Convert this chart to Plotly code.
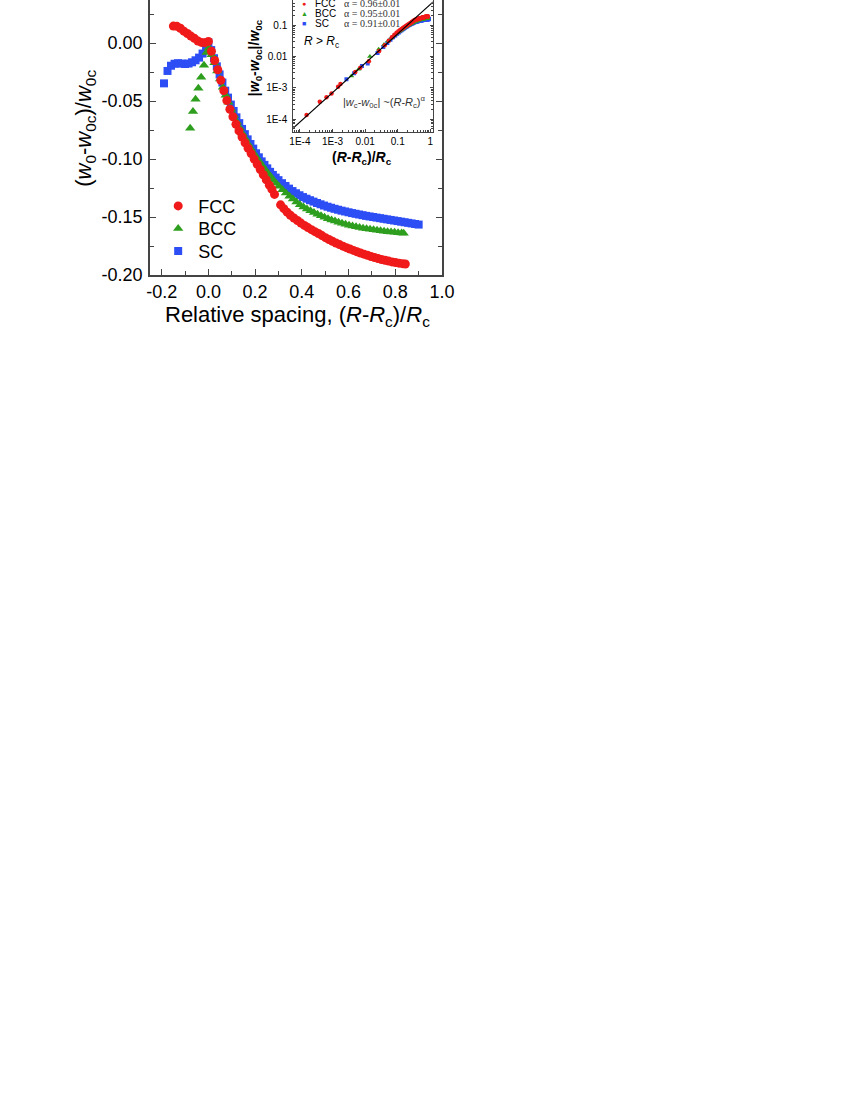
import plotly.graph_objects as go

# ---------------- main panel data: (w0 - w0c)/w0c vs (R-Rc)/Rc ----------------
fcc_x = [-0.150, -0.135, -0.120, -0.105, -0.090, -0.075, -0.060, -0.045, -0.030, -0.015, 0.000,
         0.013, 0.027, 0.040, 0.053, 0.066, 0.079, 0.092, 0.105, 0.118, 0.131, 0.144, 0.157, 0.170,
         0.183, 0.196, 0.209, 0.222, 0.235, 0.248, 0.261, 0.272, 0.283,
         0.309, 0.323, 0.337, 0.351, 0.366, 0.381, 0.396, 0.411, 0.426, 0.441, 0.456, 0.471, 0.486,
         0.501, 0.516, 0.531, 0.546, 0.561, 0.576, 0.591, 0.606, 0.621, 0.636, 0.651, 0.666, 0.681,
         0.696, 0.711, 0.726, 0.741, 0.756, 0.771, 0.786, 0.801, 0.816, 0.831, 0.843]
fcc_y = [0.0147, 0.0145, 0.0128, 0.0103, 0.0083, 0.0061, 0.0041, 0.0018, 0.0006, 0.0004, 0.0015,
         -0.0070, -0.0150, -0.0230, -0.0320, -0.0410, -0.0495, -0.0570, -0.0635, -0.0700, -0.0757,
         -0.0810, -0.0860, -0.0907, -0.0953, -0.1000, -0.1045, -0.1090, -0.1135, -0.1180, -0.1225,
         -0.1262, -0.1305,
         -0.1395, -0.1428, -0.1458, -0.1485, -0.1508, -0.1530, -0.1552, -0.1572, -0.1591, -0.1609,
         -0.1626, -0.1642, -0.1660, -0.1678, -0.1694, -0.1709, -0.1724, -0.1738, -0.1751, -0.1764,
         -0.1776, -0.1788, -0.1799, -0.1810, -0.1820, -0.1830, -0.1840, -0.1849, -0.1858, -0.1866,
         -0.1873, -0.1880, -0.1887, -0.1893, -0.1898, -0.1902, -0.1905]

bcc_x = [-0.078, -0.066, -0.055, -0.043, -0.031, -0.019, -0.008, 0.002,
         0.014, 0.026, 0.038, 0.050, 0.062, 0.074, 0.086, 0.098, 0.110, 0.122, 0.134, 0.146, 0.158,
         0.170, 0.182, 0.194, 0.206, 0.218, 0.230, 0.242, 0.254, 0.266, 0.278, 0.290, 0.302,
         0.317, 0.332, 0.347, 0.362, 0.377, 0.392, 0.407, 0.422, 0.437, 0.452, 0.467, 0.482, 0.497,
         0.512, 0.527, 0.542, 0.557, 0.572, 0.587, 0.602, 0.617, 0.632, 0.647, 0.662, 0.677, 0.692,
         0.707, 0.722, 0.737, 0.752, 0.767, 0.782, 0.797, 0.812, 0.827, 0.836]
bcc_y = [-0.0735, -0.0590, -0.0485, -0.0390, -0.0295, -0.0190, -0.0080, -0.0040,
         -0.0100, -0.0170, -0.0240, -0.0310, -0.0380, -0.0450, -0.0510, -0.0570, -0.0625, -0.0680,
         -0.0730, -0.0780, -0.0825, -0.0870, -0.0910, -0.0950, -0.0985, -0.1020, -0.1055, -0.1088,
         -0.1120, -0.1150, -0.1180, -0.1208, -0.1235,
         -0.1265, -0.1293, -0.1320, -0.1345, -0.1370, -0.1395, -0.1413, -0.1430, -0.1446, -0.1461,
         -0.1476, -0.1489, -0.1502, -0.1514, -0.1525, -0.1535, -0.1545, -0.1554, -0.1562, -0.1570,
         -0.1577, -0.1584, -0.1590, -0.1596, -0.1601, -0.1606, -0.1610, -0.1614, -0.1618, -0.1622,
         -0.1626, -0.1629, -0.1632, -0.1635, -0.1638, -0.1640]

sc_x = [-0.190, -0.175, -0.160, -0.145, -0.130, -0.115, -0.100, -0.085, -0.070, -0.055, -0.040,
        -0.025, -0.010, 0.000,
        0.012, 0.024, 0.036, 0.048, 0.060, 0.072, 0.084, 0.096, 0.108, 0.120, 0.132, 0.144, 0.156,
        0.168, 0.180, 0.192, 0.204, 0.216, 0.228, 0.240, 0.252, 0.264, 0.276, 0.288, 0.300,
        0.315, 0.330, 0.345, 0.360, 0.375, 0.390, 0.405, 0.420, 0.435, 0.450, 0.465, 0.480, 0.495,
        0.510, 0.525, 0.540, 0.555, 0.570, 0.585, 0.600, 0.615, 0.630, 0.645, 0.660, 0.675, 0.690,
        0.705, 0.720, 0.735, 0.750, 0.765, 0.780, 0.795, 0.810, 0.825, 0.840, 0.855, 0.870, 0.885,
        0.900]
sc_y = [-0.0347, -0.0240, -0.0195, -0.0178, -0.0173, -0.0176, -0.0180, -0.0176, -0.0165, -0.0148,
        -0.0125, -0.0090, -0.0040, 0.0005,
        -0.0060, -0.0130, -0.0200, -0.0270, -0.0340, -0.0410, -0.0470, -0.0530, -0.0585, -0.0640,
        -0.0690, -0.0740, -0.0785, -0.0830, -0.0870, -0.0910, -0.0950, -0.0985, -0.1020, -0.1050,
        -0.1080, -0.1110, -0.1137, -0.1160, -0.1182,
        -0.1208, -0.1232, -0.1255, -0.1276, -0.1295, -0.1312, -0.1328, -0.1342, -0.1355, -0.1367,
        -0.1379, -0.1390, -0.1401, -0.1411, -0.1420, -0.1429, -0.1437, -0.1445, -0.1452, -0.1459,
        -0.1466, -0.1472, -0.1478, -0.1484, -0.1490, -0.1495, -0.1500, -0.1505, -0.1510, -0.1515,
        -0.1520, -0.1525, -0.1530, -0.1535, -0.1540, -0.1545, -0.1550, -0.1555, -0.1560, -0.1565]

# ---------------- inset data: extra points at very small (R-Rc)/Rc ----------------
fcc_small_x = [1.60e-4, 4.07e-4, 6.53e-4, 9.33e-4, 1.48e-3, 1.75e-3, 5.0e-3, 7.1e-3]
fcc_small_y = [1.35e-4, 3.58e-4, 4.95e-4, 6.61e-4, 1.08e-3, 1.32e-3, 3.17e-3, 4.39e-3]
bcc_small_x = [3.80e-3, 6.31e-3]
bcc_small_y = [2.37e-3, 3.94e-3]
sc_small_x = [2.67e-3, 4.6e-3, 8.0e-3]
sc_small_y = [1.86e-3, 2.92e-3, 4.92e-3]
fit_x = [6.0e-5, 1.5]
fit_y = [4.94e-5, 0.673]

x_ticks = [-0.2, 0.0, 0.2, 0.4, 0.6, 0.8, 1.0]
x_ticktext = ['-0.2', '0.0', '0.2', '0.4', '0.6', '0.8', '1.0']
y_ticks = [-0.20, -0.15, -0.10, -0.05, 0.00]
y_ticktext = ['-0.20', '-0.15', '-0.10', '-0.05', '0.00']
ins_x_ticks = [1e-4, 1e-3, 1e-2, 1e-1, 1]
ins_x_ticktext = ['1E-4', '1E-3', '0.01', '0.1', '1']
ins_y_ticks = [1e-4, 1e-3, 1e-2, 1e-1]
ins_y_ticktext = ['1E-4', '1E-3', '0.01', '0.1']
alpha_text = ['α = 0.96±0.01', 'α = 0.95±0.01', 'α = 0.91±0.01']
names = ['FCC', 'BCC', 'SC']

RED = '#f01a1a'
GREEN = '#2e9e1e'
BLUE = '#2d4ef5'
AXC = '#444444'
FONT = 'Liberation Sans, Arial, sans-serif'

fig = go.Figure()

# main panel (blue first so red ends on top); one small legend per entry
fig.add_trace(go.Scatter(x=sc_x, y=sc_y, mode='markers', name='SC', legend='legend3',
                         marker=dict(symbol='square', size=8, color=BLUE)))
fig.add_trace(go.Scatter(x=bcc_x, y=bcc_y, mode='markers', name='BCC', legend='legend2',
                         marker=dict(symbol='triangle-up', size=9, color=GREEN)))
fig.add_trace(go.Scatter(x=fcc_x, y=fcc_y, mode='markers', name='FCC', legend='legend',
                         marker=dict(symbol='circle', size=9, color=RED)))


def inset_pts(small_x, small_y, xs, ys):
    px = list(small_x) + [x for x in xs if x >= 0.01]
    py = list(small_y) + [-y for x, y in zip(xs, ys) if x >= 0.01]
    return px, py


sx, sy = inset_pts(sc_small_x, sc_small_y, sc_x, sc_y)
bx, by = inset_pts(bcc_small_x, bcc_small_y, bcc_x, bcc_y)
fx, fy = inset_pts(fcc_small_x, fcc_small_y, fcc_x, fcc_y)
fig.add_trace(go.Scatter(x=sx, y=sy, mode='markers', xaxis='x2', yaxis='y2', showlegend=False,
                         marker=dict(symbol='square', size=4, color=BLUE)))
fig.add_trace(go.Scatter(x=bx, y=by, mode='markers', xaxis='x2', yaxis='y2', showlegend=False,
                         marker=dict(symbol='triangle-up', size=5, color=GREEN)))
fig.add_trace(go.Scatter(x=fx, y=fy, mode='markers', xaxis='x2', yaxis='y2', showlegend=False,
                         marker=dict(symbol='circle', size=4.5, color=RED)))
fig.add_trace(go.Scatter(x=fit_x, y=fit_y, mode='lines', xaxis='x2', yaxis='y2', showlegend=False,
                         line=dict(color='black', width=1.2)))

ax_common = dict(showline=True, linecolor=AXC, linewidth=1.6, ticks='inside', tickcolor=AXC,
                 showgrid=False, zeroline=False, automargin=False)

leg_common = dict(xanchor='left', yanchor='top', font=dict(size=18), bgcolor='rgba(0,0,0,0)',
                  itemwidth=30)

fig.update_layout(
    width=850, height=1100,
    margin=dict(l=150, r=408, t=0, b=825),
    paper_bgcolor='white', plot_bgcolor='white',
    font=dict(family=FONT, color='black'),
    xaxis=dict(range=[-0.25, 1.0], tickvals=x_ticks, ticktext=x_ticktext, ticklen=6, tickwidth=1.4,
               tickfont=dict(size=18), ticklabelstandoff=0,
               minor=dict(ticks='inside', dtick=0.1, ticklen=4, tickcolor=AXC, tickwidth=1.2),
               **ax_common),
    yaxis=dict(range=[-0.2, 0.0372], tickvals=y_ticks, ticktext=y_ticktext, ticklen=6, tickwidth=1.4,
               tickfont=dict(size=18), mirror='allticks', ticklabelstandoff=2,
               minor=dict(ticks='inside', dtick=0.025, tick0=0, ticklen=4, tickcolor=AXC, tickwidth=1.2),
               **ax_common),
    xaxis2=dict(type='log', domain=[0.491, 0.968], anchor='y2', range=[-4.2, 0.07],
                tickvals=ins_x_ticks, ticktext=ins_x_ticktext, ticklen=3, tickwidth=1,
                tickfont=dict(size=10), ticklabelstandoff=0,
                minor=dict(ticks='inside', ticklen=2, tickcolor=AXC, dtick='D1'),
                showline=True, linecolor=AXC, linewidth=1.2, ticks='inside', tickcolor=AXC,
                showgrid=False, zeroline=False, automargin=False),
    yaxis2=dict(type='log', domain=[0.521, 1.0], anchor='x2', range=[-4.404, -0.196],
                tickvals=ins_y_ticks, ticktext=ins_y_ticktext, ticklen=3, tickwidth=1,
                tickfont=dict(size=10), mirror='allticks', ticklabelstandoff=3,
                minor=dict(ticks='inside', ticklen=2, tickcolor=AXC, dtick='D1'),
                showline=True, linecolor=AXC, linewidth=1.2, ticks='inside', tickcolor=AXC,
                showgrid=False, zeroline=False, automargin=False),
    legend=dict(x=0.028, y=0.3175, **leg_common),
    legend2=dict(x=0.028, y=0.2356, **leg_common),
    legend3=dict(x=0.028, y=0.1538, **leg_common),
)

ann = []
# axis titles
ann.append(dict(text='Relative spacing, (<i>R</i>-<i>R</i><sub>c</sub>)/<i>R</i><sub>c</sub>',
                x=0.504, y=-0.149, font=dict(size=22)))
ann.append(dict(text='(<i>w</i><sub>0</sub>-<i>w</i><sub>0c</sub>)/<i>w</i><sub>0c</sub>',
                x=-0.223, y=0.535, textangle=-90, font=dict(size=22)))
# inset titles
ann.append(dict(text='<b>|<i>w</i><sub>0</sub>-<i>w</i><sub>0c</sub>|/<i>w</i><sub>0c</sub></b>',
                x=0.36, y=0.789, textangle=-90, font=dict(size=14)))
ann.append(dict(text='<b>(<i>R</i>-<i>R</i><sub>c</sub>)/<i>R</i><sub>c</sub></b>',
                x=0.727, y=0.4255, font=dict(size=14)))
# inset legend
glyphs = ['●', '▲', '■']
gcols = [RED, GREEN, BLUE]
for i in range(3):
    yy = 1 - (3.3 + 10 * i) / 275
    ann.append(dict(text=glyphs[i], x=0.528, y=yy, font=dict(size=7, color=gcols[i])))
    ann.append(dict(text=names[i], x=0.559, y=yy, xanchor='left', font=dict(size=10)))
    ann.append(dict(text=alpha_text[i], x=0.658, y=yy, xanchor='left',
                    font=dict(size=10, family='Liberation Serif, Times New Roman, serif', color='#333333')))
ann.append(dict(text='<i>R</i> > <i>R</i><sub>c</sub>', x=0.521, y=0.847, xanchor='left', font=dict(size=12)))
ann.append(dict(text='|<i>w</i><sub>c</sub>-<i>w</i><sub>0c</sub>| ~(<i>R</i>-<i>R</i><sub>c</sub>)<sup>α</sup>',
                x=0.802, y=0.629, font=dict(size=11, color='#333333')))

for a in ann:
    a.setdefault('xref', 'paper')
    a.setdefault('yref', 'paper')
    a.setdefault('showarrow', False)
    a.setdefault('xanchor', 'center')
    a.setdefault('yanchor', 'middle')
fig.update_layout(annotations=ann)

# the page body has an 8px default margin; drop it so the figure sits at the corner
fig.write_html('out.html', config={'displayModeBar': False},
               post_script="document.body.style.margin='0px';")
